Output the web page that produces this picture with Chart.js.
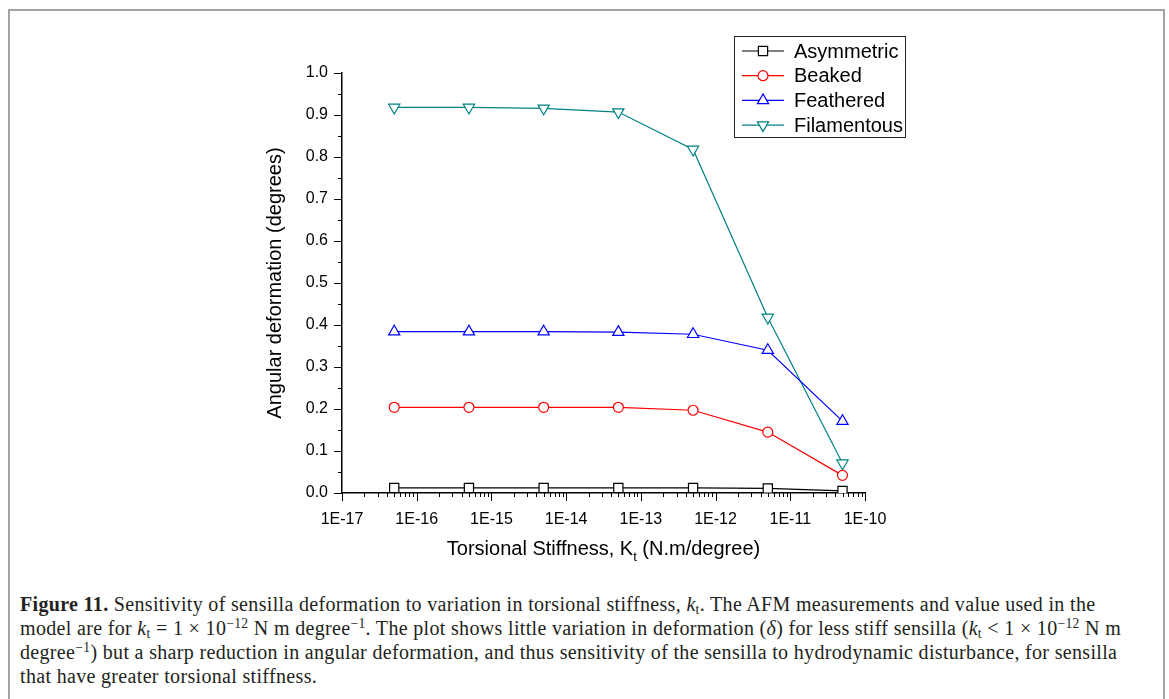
<!DOCTYPE html>
<html>
<head>
<meta charset="utf-8">
<script src="https://cdn.jsdelivr.net/npm/chart.js@4.4.1/dist/chart.umd.min.js"></script>
<style>
  html, body { margin: 0; padding: 0; background: #fff; width: 1169px; height: 699px; overflow: hidden; }
  .frame { position: absolute; left: 8px; top: 9px; width: 1153px; height: 720px; border: 2px solid #a3a3a3; }
  .plot { position: absolute; left: 0; top: 0; width: 1169px; height: 580px; }
  .caption { position: absolute; left: 20px; top: 592px; font-family: 'Liberation Serif', 'Times New Roman', serif;
    font-size: 20px; letter-spacing: 0.33px; line-height: 24px; color: #231f20; white-space: nowrap; }
  .caption sup, .caption sub { font-size: 0.68em; line-height: 0; }
  .caption sup { vertical-align: 0.55em; }
  .caption sub { vertical-align: -0.2em; }
</style>
</head>
<body>
<div class="frame"></div>
<div class="plot"><canvas id="chart"></canvas></div>
<div class="caption">
  <div><b>Figure 11.</b> Sensitivity of sensilla deformation to variation in torsional stiffness, <i>k</i><sub>t</sub>. The AFM measurements and value used in the</div>
  <div>model are for <i>k</i><sub>t</sub> = 1 × 10<sup>−12</sup> N m degree<sup>−1</sup>. The plot shows little variation in deformation (<i>δ</i>) for less stiff sensilla (<i>k</i><sub>t</sub> &lt; 1 × 10<sup>−12</sup> N m</div>
  <div>degree<sup>−1</sup>) but a sharp reduction in angular deformation, and thus sensitivity of the sensilla to hydrodynamic disturbance, for sensilla</div>
  <div>that have greater torsional stiffness.</div>
</div>
<script>
// torsional stiffness values (N.m/degree)
const stiffness = [5e-17, 5e-16, 5e-15, 5e-14, 5e-13, 5e-12, 5e-11];

const seriesNames = ['Asymmetric', 'Beaked', 'Feathered', 'Filamentous'];
const asymmetric = [0.012, 0.012, 0.012, 0.012, 0.012, 0.011, 0.005];
const beaked = [0.204, 0.204, 0.204, 0.204, 0.197, 0.145, 0.042];
const feathered = [0.384, 0.384, 0.384, 0.383, 0.378, 0.340, 0.171];
const filamentous = [0.918, 0.918, 0.916, 0.907, 0.818, 0.418, 0.071];

const xTickExponents = [-17, -16, -15, -14, -13, -12, -11, -10];
const xTickLabels = ['1E-17', '1E-16', '1E-15', '1E-14', '1E-13', '1E-12', '1E-11', '1E-10'];
const yTickLabels = ['0.0', '0.1', '0.2', '0.3', '0.4', '0.5', '0.6', '0.7', '0.8', '0.9', '1.0'];

const colors = ['#000000', '#ff0000', '#0000ff', '#008080'];
const markers = ['rect', 'circle', 'triangle', 'triangle'];
const markerTurn = [0, 0, 0, 180];
const markerSize = [6.5, 5, 6.5, 6.5];

const sansFont = '"Liberation Sans", Arial, sans-serif';

const isTenth = v => Math.abs(v * 10 - Math.round(v * 10)) < 1e-6;

function makeSet(label, values, i) {
    return {
        label: label,
        data: values.map((v, j) => ({ x: stiffness[j], y: v })),
        borderColor: colors[i],
        backgroundColor: '#fff',
        pointBackgroundColor: '#fff',
        pointBorderColor: colors[i],
        pointStyle: markers[i],
        pointRotation: markerTurn[i],
        pointRadius: markerSize[i],
        pointHoverRadius: markerSize[i],
        pointBorderWidth: 1.2,
        borderWidth: 1.2,
        tension: 0
    };
}

// outward tick marks, long on decades / tenths, short otherwise
const tickMarks = {
    id: 'tickMarks',
    beforeDatasetsDraw(chart) {
        const { ctx, scales: { x, y } } = chart;
        ctx.save();
        ctx.strokeStyle = '#000';
        ctx.lineWidth = 1;
        ctx.beginPath();
        x.ticks.forEach(t => {
            const px = Math.round(x.getPixelForValue(t.value)) + 0.5;
            ctx.moveTo(px, x.top);
            ctx.lineTo(px, x.top + (t.major ? 8 : 4));
        });
        y.ticks.forEach(t => {
            const py = Math.round(y.getPixelForValue(t.value)) + 0.5;
            ctx.moveTo(y.right, py);
            ctx.lineTo(y.right - (isTenth(t.value) ? 8 : 4), py);
        });
        ctx.stroke();
        ctx.restore();
    }
};

// x axis title with a subscript t
const xTitle = {
    id: 'xTitle',
    afterDraw(chart) {
        const { ctx, scales: { x } } = chart;
        const parts = [['Torsional Stiffness, K', 20, 0], ['t', 13, 6], [' (N.m/degree)', 20, 0]];
        ctx.save();
        ctx.fillStyle = '#000';
        ctx.textBaseline = 'alphabetic';
        let w = 0;
        parts.forEach(p => { ctx.font = p[1] + 'px ' + sansFont; w += ctx.measureText(p[0]).width; });
        let cx = (x.left + x.right) / 2 - w / 2;
        const base = x.top + 62;
        parts.forEach(p => {
            ctx.font = p[1] + 'px ' + sansFont;
            ctx.fillText(p[0], cx, base + p[2]);
            cx += ctx.measureText(p[0]).width;
        });
        ctx.restore();
    }
};

// boxed legend with line + marker samples
const boxLegend = {
    id: 'boxLegend',
    afterDraw(chart) {
        const ctx = chart.ctx;
        const left = 734, top = 36, width = 171, height = 101;
        ctx.save();
        ctx.fillStyle = '#fff';
        ctx.fillRect(left, top, width, height);
        ctx.strokeStyle = '#222';
        ctx.lineWidth = 1;
        ctx.strokeRect(left + 0.5, top + 0.5, width, height);
        ctx.font = '20px ' + sansFont;
        ctx.textBaseline = 'middle';
        chart.data.datasets.forEach((ds, i) => {
            const cy = top + 15 + i * 24.7;
            ctx.strokeStyle = ds.borderColor;
            ctx.lineWidth = 1.2;
            ctx.beginPath();
            ctx.moveTo(742, cy);
            ctx.lineTo(784, cy);
            ctx.stroke();
            ctx.fillStyle = '#fff';
            Chart.helpers.drawPoint(ctx, {
                pointStyle: ds.pointStyle,
                rotation: ds.pointRotation,
                radius: ds.pointRadius,
                borderWidth: 1.2
            }, 763, cy);
            ctx.fillStyle = '#000';
            ctx.fillText(ds.label, 794, cy + 1);
        });
        ctx.restore();
    }
};

new Chart(document.getElementById('chart'), {
    type: 'line',
    data: {
        datasets: [
            makeSet(seriesNames[0], asymmetric, 0),
            makeSet(seriesNames[1], beaked, 1),
            makeSet(seriesNames[2], feathered, 2),
            makeSet(seriesNames[3], filamentous, 3)
        ]
    },
    options: {
        responsive: true,
        maintainAspectRatio: false,
        animation: false,
        events: [],
        layout: {
            padding: { left: 250, right: 304, top: 73, bottom: 0 }
        },
        scales: {
            x: {
                type: 'logarithmic',
                min: 1e-17,
                max: 1e-10,
                afterFit: scale => { scale.height = 87; },
                afterBuildTicks: scale => {
                    const ticks = [];
                    xTickExponents.forEach((e, i) => {
                        ticks.push({ value: Math.pow(10, e), major: true });
                        if (i < xTickExponents.length - 1) {
                            for (let m = 2; m <= 9; m++) {
                                ticks.push({ value: m * Math.pow(10, e), major: false });
                            }
                        }
                    });
                    scale.ticks = ticks;
                },
                grid: { display: false, drawTicks: false },
                border: { display: true, color: '#000', width: 1.5 },
                ticks: {
                    autoSkip: false,
                    maxRotation: 0,
                    minRotation: 0,
                    padding: 17,
                    color: '#000',
                    font: { family: sansFont, size: 16 },
                    callback: function (value, index, ticks) {
                        if (!ticks[index].major) {
                            return '';
                        }
                        const k = xTickExponents.indexOf(Math.round(Math.log10(value)));
                        return xTickLabels[k];
                    }
                }
            },
            y: {
                min: 0,
                max: 1,
                afterFit: scale => { scale.width = 92; },
                grid: { display: false, drawTicks: false },
                border: { display: true, color: '#000', width: 1.5 },
                ticks: {
                    stepSize: 0.05,
                    autoSkip: false,
                    padding: 14,
                    color: '#000',
                    font: { family: sansFont, size: 16 },
                    callback: value => isTenth(value) ? yTickLabels[Math.round(value * 10)] : ''
                },
                title: {
                    display: true,
                    text: 'Angular deformation (degrees)',
                    color: '#000',
                    font: { family: sansFont, size: 20 },
                    padding: { top: 13, bottom: 0 }
                }
            }
        },
        plugins: {
            legend: { display: false },
            tooltip: { enabled: false }
        }
    },
    plugins: [tickMarks, xTitle, boxLegend]
});
</script>
</body>
</html>
